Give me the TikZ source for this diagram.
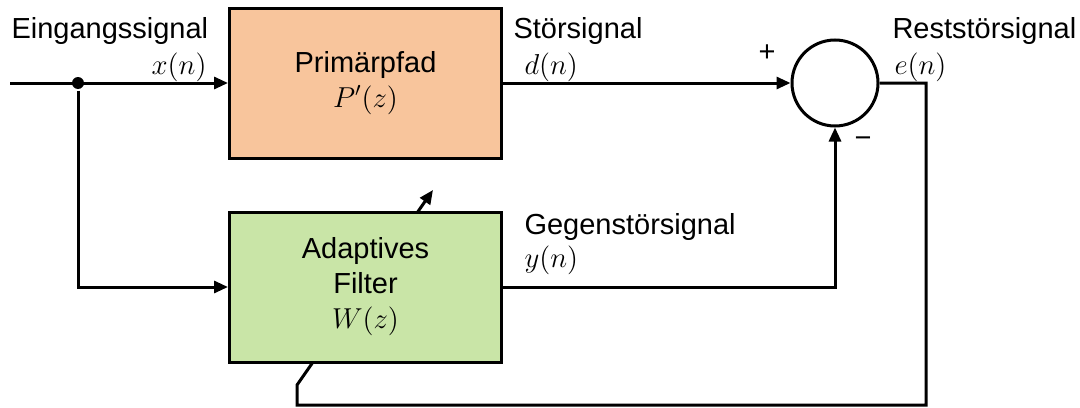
\documentclass[tikz,border=0pt]{standalone}
\usepackage{fontspec}
\setmainfont{Liberation Sans}
\usepackage{tikz}
\usetikzlibrary{positioning,arrows.meta,backgrounds}
\definecolor{primcol}{HTML}{F8C59C}
\definecolor{filtcol}{HTML}{C9E5A7}

\begin{document}
\begin{tikzpicture}[x=0.5pt,y=-0.5pt,line width=1.5pt,>={Triangle[length=7pt,width=6pt]},
	block/.style={rectangle,draw,minimum width=136pt,minimum height=75pt,align=center,font=\fontsize{14.5}{17.5}\selectfont},
	sum node/.style={circle,draw,minimum size=43pt,inner sep=0pt},
	sig text/.style={inner sep=0pt,font=\fontsize{14.5}{18}\selectfont}]
				\useasboundingbox (0,0) rectangle (1080,407);

				\node[block,fill=primcol] (prim) at (365.5,83) {Primärpfad\\$P'(z)$};
				\node[block,fill=filtcol] (filt) [below=25.5pt of prim] {Adaptives\\Filter\\$W(z)$};
				\node[sum node] (sum) at (835,83) {};
				\node[circle,fill,inner sep=0pt,minimum size=6pt] (split) at (78,83) {};
				\coordinate (in) at (10,83);
				\coordinate (back) at (926,405);
				\coordinate (bend) at (297,385);
				\coordinate (tip) at (433,190);

				% Beschriftungen
				\node[sig text,anchor=base west] (insig) at (10,39) {Eingangssignal};
				\node[sig text,anchor=base east] (xn) at (208,74) {$x(n)$};
				\node[sig text,anchor=base west] (dsig) at (512,39) {Störsignal};
				\node[sig text,anchor=base west] (dn) at (523,74) {$d(n)$};
				\node[sig text,anchor=base west] (esig) at (891,38) {Reststörsignal};
				\node[sig text,anchor=base west] (en) at (893,74) {$e(n)$};
				\node[sig text,anchor=base west] (ysig) at (523,234) {Gegenstörsignal};
				\node[sig text,anchor=base west] (yn) at (523,267) {$y(n)$};
				\node[sig text] (plus) at (767,53) {+};
				\node[sig text] (minus) at (863,142) {−};

				\draw[->] (in) -- (prim);
				\draw[->] (split) |- (filt.west);
				\draw[->] (prim.east) -- (sum.west);
				\draw[->] (filt.east) -| (sum.south);
				\begin{scope}[on background layer]
					\draw[->,black,line width=1.5pt,line join=miter] (sum.east) -| (back) -| (bend) -- (tip);
				\end{scope}

			\end{tikzpicture}
\end{document}
